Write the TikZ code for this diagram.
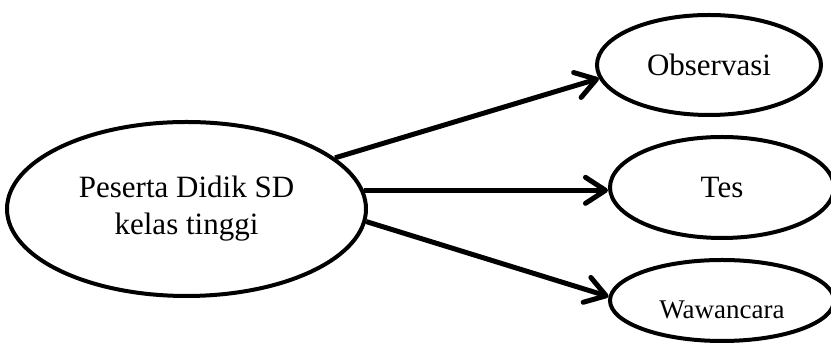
\documentclass[tikz,border=0pt]{standalone}
\usepackage{fontspec}
\setmainfont{Liberation Serif}
\usetikzlibrary{shapes.geometric,arrows.meta}

\tikzset{
  bubble/.style={ellipse, draw, line width=4pt, inner sep=0pt,
    font=\fontsize{31}{37}\selectfont, align=center},
  flow/.style={line width=5pt, -{Straight Barb[length=20pt,width=26pt,round]}},
}

\begin{document}
\begin{tikzpicture}[x=1pt,y=1pt]
    \useasboundingbox (0,0) rectangle (831,344);

    \node [bubble, minimum width=359pt, minimum height=174pt] (siswa) at (186.5,135)
      {Peserta Didik SD\\kelas tinggi};
    \node [bubble, minimum width=224pt, minimum height=100pt] (obs) at (709,279) {Observasi};
    \node [bubble, minimum width=224pt, minimum height=101pt] (tes) at (722,156.5) {Tes};
    \node [bubble, minimum width=224pt, minimum height=81pt,
      font=\fontsize{27}{32}\selectfont, text height=37pt, text depth=0pt] (waw) at (722,43.5) {Wawancara};

    \draw [flow] (siswa.19) -- (obs.187);
    \draw [flow] (siswa.6) -- (siswa.6 -| tes.west);
    \draw [flow] (siswa.-4) -- (waw.178);
\end{tikzpicture}
\end{document}
